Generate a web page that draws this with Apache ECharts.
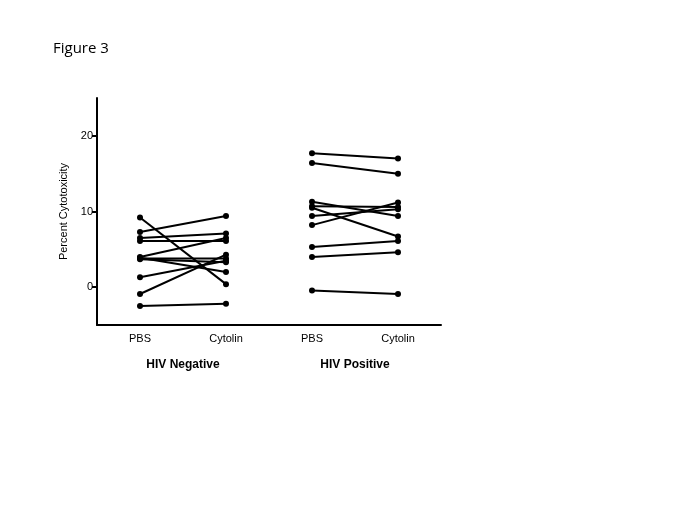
<!DOCTYPE html>
<html>
<head>
<meta charset="utf-8">
<script src="https://cdn.jsdelivr.net/npm/echarts@6/dist/echarts.min.js"></script>
<style>html,body{margin:0;padding:0;background:#fff}#c{width:685px;height:513px}</style>
</head>
<body>
<div id="c"></div>
<script>
const categories = ['PBS', 'Cytolin', 'PBS', 'Cytolin'];
const groups = ['HIV Negative', 'HIV Positive'];
const yTicks = [0, 10, 20];
// HIV Negative: [PBS, Cytolin] pairs
const negPBS     = [9.2, 7.3, 6.5, 6.1, 4.0, 3.8, 3.7, 3.9, 1.3, -0.9, -2.5];
const negCytolin = [0.4, 9.4, 7.1, 6.1, 6.5, 3.8, 3.3, 2.0, 3.5, 4.3, -2.2];
// HIV Positive
const posPBS     = [17.7, 16.4, 11.3, 10.5, 10.7, 9.4, 8.2, 5.3, 4.0, -0.45];
const posCytolin = [17.0, 15.0, 9.4, 6.7, 10.6, 10.3, 11.2, 6.1, 4.6, -0.9];

const series = [];
function addPairs(a, b, x0) {
  for (let i = 0; i < a.length; i++) {
    series.push({
      type: 'line',
      data: [[x0, a[i]], [x0 + 1, b[i]]],
      symbol: 'circle', symbolSize: 6,
      lineStyle: { color: '#000', width: 2 },
      itemStyle: { color: '#000' },
      silent: true, animation: false
    });
  }
}
addPairs(negPBS, negCytolin, 0);
addPairs(posPBS, posCytolin, 2);

const chart = echarts.init(document.getElementById('c'), null, { renderer: 'canvas' });
chart.setOption({
  backgroundColor: '#fff',
  animation: false,
  title: {
    text: 'Figure 3', left: 48, top: 36,
    textStyle: { fontFamily: 'Open Sans', fontSize: 15, fontWeight: 'normal', color: '#000' }
  },
  grid: { left: 97, right: 244, top: 98, bottom: 188 },
  xAxis: [{
    type: 'category',
    data: categories,
    boundaryGap: true,
    axisLine: { onZero: false, lineStyle: { color: '#000', width: 2 } },
    axisTick: { alignWithLabel: true, length: 5, lineStyle: { color: '#000', width: 2 } },
    axisLabel: { color: '#000', fontFamily: 'Liberation Sans', fontSize: 11, margin: 8 }
  }, {
    type: 'category',
    data: groups,
    position: 'bottom',
    offset: 26,
    gridIndex: 0,
    axisLine: { show: false },
    axisTick: { show: false },
    axisLabel: { color: '#000', fontFamily: 'Liberation Sans', fontSize: 12, fontWeight: 'bold', margin: 8 }
  }],
  yAxis: {
    type: 'value', min: -5, max: 25,
    name: 'Percent Cytotoxicity',
    nameLocation: 'middle', nameGap: 27, nameRotate: 90,
    nameTextStyle: { color: '#000', fontFamily: 'Liberation Sans', fontSize: 11 },
    splitLine: { show: false },
    axisLine: { show: true, onZero: false, lineStyle: { color: '#000', width: 2 } },
    axisTick: { show: true, length: 5, customValues: yTicks, lineStyle: { color: '#000', width: 2 } },
    axisLabel: { color: '#000', fontFamily: 'Liberation Sans', fontSize: 11, margin: 4, customValues: yTicks }
  },
  series: series
});
</script>
</body>
</html>
